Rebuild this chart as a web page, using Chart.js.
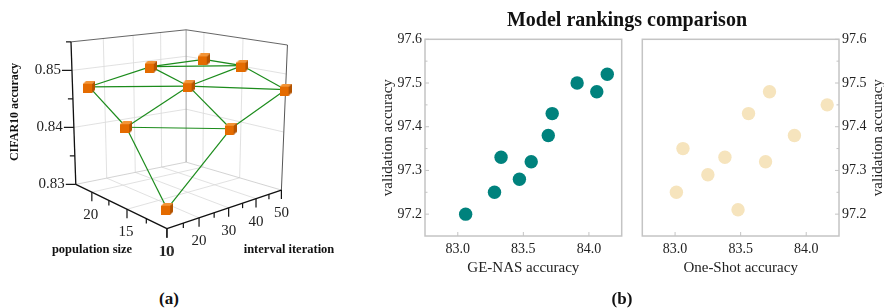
<!DOCTYPE html>
<html>
<head>
<meta charset="utf-8">
<script src="https://cdn.jsdelivr.net/npm/chart.js@4"></script>
<style>
  body { margin: 0; background: #fff; width: 884px; height: 308px; position: relative; overflow: hidden; font-family: "Liberation Serif", serif; }
  canvas { position: absolute; }
  .lbl { position: absolute; font-weight: bold; transform: translate(-50%, -50%); white-space: nowrap; color: #111; }
</style>
</head>
<body>
<canvas id="surface" width="345" height="280" style="left:0;top:0"></canvas>
<canvas id="geChart" width="270" height="290" style="left:360px;top:0"></canvas>
<canvas id="osChart" width="254" height="290" style="left:630px;top:0"></canvas>
<div class="lbl" style="left:627px;top:19px;font-size:20px">Model rankings comparison</div>
<div class="lbl" style="left:169px;top:299px;font-size:17px">(a)</div>
<div class="lbl" style="left:622px;top:299px;font-size:17px">(b)</div>
<script>
// (a) CIFAR10 accuracy vs population size and interval iteration
const popSizes = [10, 15, 20];
const intervalIters = [10, 30, 50];
const cifarAcc = [            // row = population size, column = interval iteration
    [0.8332, 0.8432, 0.8473],
    [0.8437, 0.8484, 0.8501],
    [0.8482, 0.8501, 0.8500]
];
const popTicks = [10, 15, 20];
const popMinorTicks = [12.5, 17.5];
const intervalTicks = [10, 20, 30, 40, 50];
const intervalMinorTicks = [15, 25, 35, 45];
const accTicks = [0.83, 0.84, 0.85];
const accMinorTicks = [0.835, 0.845, 0.855];

// (b) model rankings comparison
const geNasAcc   = [83.06, 83.28, 83.33, 83.47, 83.56, 83.69, 83.72, 83.91, 84.06, 84.14];
const geNasVal   = [97.20, 97.25, 97.33, 97.28, 97.32, 97.38, 97.43, 97.50, 97.48, 97.52];
const oneShotAcc = [83.01, 83.06, 83.25, 83.38, 83.48, 83.56, 83.69, 83.72, 83.91, 84.16];
const oneShotVal = [97.25, 97.35, 97.29, 97.33, 97.21, 97.43, 97.32, 97.48, 97.38, 97.45];
const rankXTicks = [83.0, 83.5, 84.0];
const rankYTicks = [97.2, 97.3, 97.4, 97.5, 97.6];
const rankYMinorTicks = [97.25, 97.35, 97.45, 97.55];

Chart.defaults.font.family = '"Liberation Serif", serif';
Chart.defaults.color = '#222';

// ---- 3d view: box limits and where the box corners land on screen
const popLim = [10, 22.5], intLim = [10, 50], accLim = [0.83, 0.855];
const boxFloor = { F: [166.7, 233.3], L: [71.7, 186.7], R: [286, 192.7], B: [186.7, 163.3] };
const boxTop   = { F: [168, 69.9],    L: [66.7, 36.7],  R: [292.3, 40],  B: [186.7, 24] };
const persp = 0.17;

function warp(t) { return (1 + persp) * t / (1 + persp * t); }

function project(pop, it, acc) {
    const u = warp((pop - popLim[0]) / (popLim[1] - popLim[0]));
    const v = warp((it - intLim[0]) / (intLim[1] - intLim[0]));
    const w = (acc - accLim[0]) / (accLim[1] - accLim[0]);
    const mix = (c, k) => c.F[k] * (1 - u) * (1 - v) + c.L[k] * u * (1 - v) + c.R[k] * (1 - u) * v + c.B[k] * u * v;
    const fx = mix(boxFloor, 0), fy = mix(boxFloor, 1);
    return { x: fx + w * (mix(boxTop, 0) - fx), y: fy + w * (mix(boxTop, 1) - fy) };
}

const nodes = [];
popSizes.forEach((p, a) => intervalIters.forEach((it, b) => nodes.push(project(p, it, cifarAcc[a][b]))));
const node = (a, b) => nodes[a * intervalIters.length + b];
const edges = [];
for (let a = 0; a < popSizes.length; a++) {
    for (let b = 0; b < intervalIters.length; b++) {
        if (a + 1 < popSizes.length) edges.push([node(a, b), node(a + 1, b)]);
        if (b + 1 < intervalIters.length) edges.push([node(a, b), node(a, b + 1)]);
        if (a + 1 < popSizes.length && b + 1 < intervalIters.length) edges.push([node(a + 1, b), node(a, b + 1)]);
    }
}

function cubeMarker() {
    const c = document.createElement('canvas');
    c.width = 12; c.height = 12;
    const g = c.getContext('2d');
    const poly = (pts, col) => {
        g.beginPath();
        pts.forEach((p, k) => k ? g.lineTo(p[0], p[1]) : g.moveTo(p[0], p[1]));
        g.closePath();
        g.fillStyle = col;
        g.fill();
    };
    poly([[0, 3], [3, 0], [12, 0], [9, 3]], '#f39436');
    poly([[9, 3], [12, 0], [12, 9], [9, 12]], '#b45300');
    g.fillStyle = '#e46b00';
    g.fillRect(0, 3, 9, 9);
    return c;
}

const axes3d = {
    id: 'axes3d',
    beforeDatasetsDraw(chart) {
        const ctx = chart.ctx, sx = chart.scales.x, sy = chart.scales.y;
        const P = (p, i, z) => { const q = project(p, i, z); return [sx.getPixelForValue(q.x), sy.getPixelForValue(q.y)]; };
        const seg = (a, b, color, width) => {
            ctx.beginPath();
            ctx.moveTo(a[0], a[1]);
            ctx.lineTo(b[0], b[1]);
            ctx.strokeStyle = color;
            ctx.lineWidth = width;
            ctx.stroke();
        };
        const [p0, p1] = popLim, [i0, i1] = intLim, [z0, z1] = accLim;
        const grid = '#d9d9d9';
        ctx.save();

        // pane grids
        popTicks.filter(p => p > p0).forEach(p => {
            seg(P(p, i0, z0), P(p, i1, z0), grid, 0.8);
            seg(P(p, i1, z0), P(p, i1, z1), grid, 0.8);
        });
        intervalTicks.filter(i => i > i0 && i < i1).forEach(i => {
            seg(P(p0, i, z0), P(p1, i, z0), grid, 0.8);
            seg(P(p1, i, z0), P(p1, i, z1), grid, 0.8);
        });
        accTicks.filter(z => z > z0).forEach(z => {
            seg(P(p1, i0, z), P(p1, i1, z), grid, 0.8);
            seg(P(p1, i1, z), P(p0, i1, z), grid, 0.8);
        });

        // pane edges
        seg(P(p1, i0, z0), P(p1, i1, z0), '#c8c8c8', 0.8);
        seg(P(p1, i1, z0), P(p0, i1, z0), '#c8c8c8', 0.8);
        seg(P(p1, i1, z0), P(p1, i1, z1), '#888', 0.8);
        seg(P(p1, i0, z1), P(p1, i1, z1), '#555', 0.9);
        seg(P(p1, i1, z1), P(p0, i1, z1), '#555', 0.9);
        seg(P(p0, i1, z0), P(p0, i1, z1), '#444', 0.9);

        // axis lines
        seg(P(p1, i0, z0), P(p1, i0, z1), '#111', 1.3);
        seg(P(p0, i0, z0), P(p1, i0, z0), '#111', 1.3);
        seg(P(p0, i0, z0), P(p0, i1, z0), '#111', 1.3);

        ctx.fillStyle = '#222';
        ctx.font = '15px "Liberation Serif"';

        // z ticks
        accTicks.forEach(z => {
            const q = P(p1, i0, z);
            seg(q, [q[0] - 10, q[1]], '#111', 1.2);
            ctx.textAlign = 'right';
            ctx.textBaseline = 'middle';
            ctx.fillText(z.toFixed(2), q[0] - 11, q[1]);
        });
        accMinorTicks.forEach(z => { const q = P(p1, i0, z); seg(q, [q[0] - 5, q[1]], '#111', 1.2); });

        // population size ticks
        ctx.textAlign = 'center';
        popTicks.forEach(p => {
            const q = P(p, i0, z0);
            seg(q, [q[0], q[1] + 9], '#111', 1.2);
            ctx.fillText(String(p), q[0] - 1, q[1] + 23);
        });
        popMinorTicks.forEach(p => { const q = P(p, i0, z0); seg(q, [q[0], q[1] + 5], '#111', 1.2); });

        // interval iteration ticks
        intervalTicks.forEach(i => {
            const q = P(p0, i, z0);
            seg(q, [q[0], q[1] + 9], '#111', 1.2);
            ctx.fillText(String(i), q[0], q[1] + 23);
        });
        intervalMinorTicks.forEach(i => { const q = P(p0, i, z0); seg(q, [q[0], q[1] + 5], '#111', 1.2); });

        // axis titles
        ctx.fillStyle = '#111';
        ctx.font = 'bold 12.5px "Liberation Serif"';
        ctx.fillText('population size', 92, 250);
        ctx.fillText('interval iteration', 289, 250);
        ctx.translate(15, 112);
        ctx.rotate(-Math.PI / 2);
        ctx.font = 'bold 12px "Liberation Serif"';
        ctx.fillText('CIFAR10 accuracy', 0, 0);
        ctx.restore();
    }
};

const edgeSets = edges.map(e => ({
    data: e,
    showLine: true,
    borderColor: '#1c8c1c',
    borderWidth: 1.2,
    pointRadius: 0,
    order: 1
}));

new Chart(document.getElementById('surface'), {
    type: 'scatter',
    data: {
        datasets: [{
            data: nodes,
            pointStyle: cubeMarker(),
            pointRadius: 6,
            order: 0
        }].concat(edgeSets)
    },
    options: {
        responsive: false,
        animation: false,
        layout: { padding: 0 },
        plugins: { legend: { display: false }, tooltip: { enabled: false } },
        scales: {
            x: { type: 'linear', min: 0, max: 345, display: false },
            y: { type: 'linear', min: 0, max: 280, reverse: true, display: false }
        }
    },
    plugins: [axes3d]
});

// ---- (b) scatter panels
const rankFrame = {
    id: 'rankFrame',
    beforeDatasetsDraw(chart, args, opts) {
        const { ctx, chartArea: a } = chart;
        const sx = chart.scales.x, sy = chart.scales.y;
        ctx.save();
        ctx.strokeStyle = '#c4c4c4';
        ctx.lineWidth = 1.5;
        ctx.strokeRect(a.left, a.top, a.right - a.left, a.bottom - a.top);
        ctx.lineWidth = 1;
        const edgeX = opts.side === 'left' ? a.left : a.right;
        const dir = opts.side === 'left' ? 1 : -1;
        const tick = (v, len) => {
            const y = sy.getPixelForValue(v);
            ctx.beginPath();
            ctx.moveTo(edgeX, y);
            ctx.lineTo(edgeX + dir * len, y);
            ctx.stroke();
        };
        rankYTicks.forEach(v => tick(v, 4));
        rankYMinorTicks.forEach(v => tick(v, 2.5));
        rankXTicks.forEach(v => {
            const x = sx.getPixelForValue(v);
            ctx.beginPath();
            ctx.moveTo(x, a.bottom);
            ctx.lineTo(x, a.bottom - 4);
            ctx.stroke();
        });
        ctx.fillStyle = '#222';
        ctx.font = '15px "Liberation Serif"';
        ctx.textAlign = 'center';
        ctx.textBaseline = 'middle';
        ctx.translate(opts.titleX, (a.top + a.bottom) / 2);
        ctx.rotate(-Math.PI / 2);
        ctx.fillText('validation accuracy', 0, 0);
        ctx.restore();
    }
};

function makeRankChart(id, xs, ys, color, xTitle, side, padLeft, padRight, yWidth, titleX) {
    return new Chart(document.getElementById(id), {
        type: 'scatter',
        data: {
            datasets: [{
                data: xs.map((x, k) => ({ x: x, y: ys[k] })),
                backgroundColor: color,
                pointRadius: 6.7,
                pointHoverRadius: 6.7,
                pointBorderWidth: 0
            }]
        },
        options: {
            responsive: false,
            animation: false,
            layout: { padding: { top: 39.3, left: padLeft, right: padRight, bottom: 0 } },
            plugins: {
                legend: { display: false },
                tooltip: { enabled: false },
                rankFrame: { side: side, titleX: titleX }
            },
            scales: {
                x: {
                    type: 'linear', min: 82.75, max: 84.25,
                    afterBuildTicks: s => { s.ticks = rankXTicks.map(v => ({ value: v })); },
                    afterFit: s => { s.height = 54; },
                    grid: { display: false, drawTicks: false },
                    border: { display: false },
                    ticks: { font: { size: 14 }, padding: 5, maxRotation: 0, autoSkip: false, callback: v => v.toFixed(1) },
                    title: { display: true, text: xTitle, font: { size: 15 }, padding: { top: 0, bottom: 13 } }
                },
                y: {
                    type: 'linear', position: side, min: 97.15, max: 97.6,
                    afterBuildTicks: s => { s.ticks = rankYTicks.map(v => ({ value: v })); },
                    afterFit: s => { s.width = yWidth; },
                    grid: { display: false, drawTicks: false },
                    border: { display: false },
                    ticks: { font: { size: 14 }, padding: 3, autoSkip: false, callback: v => v.toFixed(1) }
                }
            }
        },
        plugins: [rankFrame]
    });
}

makeRankChart('geChart', geNasAcc, geNasVal, '#00827d', 'GE-NAS accuracy', 'left', 0, 8.3, 65, 28);
makeRankChart('osChart', oneShotAcc, oneShotVal, '#f6e4bd', 'One-Shot accuracy', 'right', 12.3, 0, 45, 248);
</script>
</body>
</html>
